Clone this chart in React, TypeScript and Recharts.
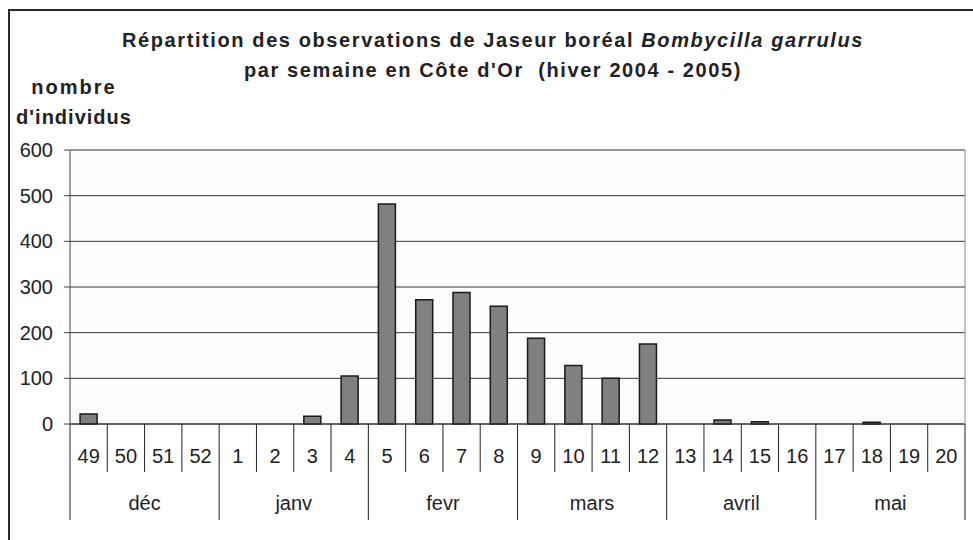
import { Bar, BarChart, CartesianGrid, XAxis, YAxis } from 'recharts';

const weeks = ['49', '50', '51', '52', '1', '2', '3', '4', '5', '6', '7', '8', '9', '10', '11', '12', '13', '14', '15', '16', '17', '18', '19', '20'];
const weekMonths = ['déc', 'déc', 'déc', 'déc', 'janv', 'janv', 'janv', 'janv', 'fevr', 'fevr', 'fevr', 'fevr', 'mars', 'mars', 'mars', 'mars', 'avril', 'avril', 'avril', 'avril', 'mai', 'mai', 'mai', 'mai'];
const counts = [22, 0, 0, 0, 0, 0, 17, 105, 482, 272, 288, 258, 188, 128, 100, 175, 0, 9, 5, 0, 0, 4, 0, 0];
const yTicks = [0, 100, 200, 300, 400, 500, 600];

const data = weeks.map((week, i) => ({ week, month: weekMonths[i], count: counts[i] }));

const FONT = '"Liberation Sans", Arial, sans-serif';
const INK = '#222';

const WeekTick = (props: any) => {
  const { x, y, payload, index } = props;
  const half = payload?.offset ?? 0;
  return (
    <g>
      <line x1={x - half} y1={y} x2={x - half} y2={y + 48} stroke={INK} strokeWidth={1} />
      {index === weeks.length - 1 && <line x1={x + half} y1={y} x2={x + half} y2={y + 48} stroke={INK} strokeWidth={1} />}
      <text x={x} y={y + 39} textAnchor="middle" fontSize={20} fontFamily={FONT} fill={INK}>
        {payload.value}
      </text>
    </g>
  );
};

const MonthTick = (props: any) => {
  const { x, y, payload, index } = props;
  const half = payload?.offset ?? 0;
  return (
    <g>
      <line x1={x - half} y1={y} x2={x - half} y2={y + 48} stroke={INK} strokeWidth={1} />
      {index === 5 && <line x1={x + half} y1={y} x2={x + half} y2={y + 48} stroke={INK} strokeWidth={1} />}
      <text x={x} y={y + 38} textAnchor="middle" fontSize={20} fontFamily={FONT} fill={INK}>
        {payload.value}
      </text>
    </g>
  );
};

export default function App() {
  return (
    <div style={{ position: 'absolute', left: 0, top: 0, width: 973, height: 540, overflow: 'hidden', background: '#fff' }}>
      <div
        style={{
          position: 'absolute',
          left: 8,
          top: 9,
          width: 1000,
          height: 600,
          border: '2px solid #2a2a2a',
        }}
      />
      <div
        style={{
          position: 'absolute',
          left: 0,
          top: 25,
          width: 986,
          textAlign: 'center',
          fontFamily: FONT,
          fontWeight: 'bold',
          fontSize: 20,
          letterSpacing: 1.6,
          lineHeight: '30px',
          color: INK,
          whiteSpace: 'nowrap',
        }}
      >
        Répartition des observations de Jaseur boréal <i>Bombycilla garrulus</i>
        <br />
        par semaine en Côte d'Or&nbsp; (hiver 2004 - 2005)
      </div>
      <div
        style={{
          position: 'absolute',
          left: 4,
          top: 72,
          width: 140,
          textAlign: 'center',
          fontFamily: FONT,
          fontWeight: 'bold',
          fontSize: 20,
          letterSpacing: 1,
          lineHeight: '30px',
          color: INK,
          whiteSpace: 'nowrap',
        }}
      >
        <span style={{ letterSpacing: 2 }}>nombre</span>
        <br />
        d'individus
      </div>
      <div style={{ position: 'absolute', left: 0, top: 0 }}>
        <BarChart
          width={973}
          height={540}
          data={data}
          margin={{ top: 150, right: 7, bottom: 20, left: 0 }}
          barCategoryGap="27%"
        >
          <CartesianGrid vertical={false} stroke="#333" fill="#fbfcfb" />
          <XAxis
            dataKey="week"
            interval={0}
            height={48}
            tickSize={0}
            tickMargin={0}
            tickLine={false}
            axisLine={{ stroke: '#333' }}
            tick={<WeekTick />}
          />
          <XAxis
            xAxisId="month"
            dataKey="month"
            allowDuplicatedCategory={false}
            interval={0}
            height={48}
            tickSize={0}
            tickMargin={0}
            tickLine={false}
            axisLine={false}
            tick={<MonthTick />}
          />
          <XAxis xAxisId="top" orientation="top" dataKey="week" height={0} tick={false} tickLine={false} axisLine={{ stroke: '#888' }} />
          <YAxis
            domain={[0, 600]}
            ticks={yTicks}
            interval={0}
            width={70}
            tickSize={6}
            tickMargin={11}
            axisLine={{ stroke: '#444' }}
            tickLine={{ stroke: '#444' }}
            tick={{ fontSize: 20, fontFamily: FONT, fill: INK }}
          />
          <YAxis yAxisId="right" orientation="right" width={1} tick={false} tickLine={false} axisLine={{ stroke: '#888' }} />
          <Bar dataKey="count" fill="#808080" stroke="#1a1a1a" strokeWidth={1.5} isAnimationActive={false} />
        </BarChart>
      </div>
    </div>
  );
}
